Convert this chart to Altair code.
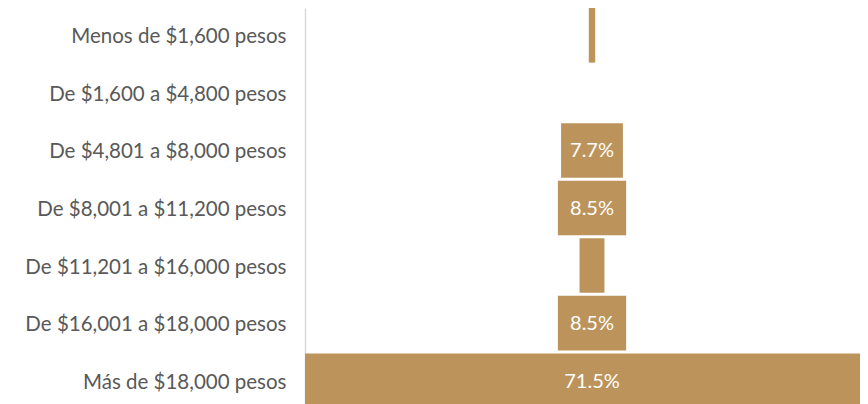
import altair as alt
import pandas as pd

categories = [
    "Menos de $1,600 pesos",
    "De $1,600 a $4,800 pesos",
    "De $4,801 a $8,000 pesos",
    "De $8,001 a $11,200 pesos",
    "De $11,201 a $16,000 pesos",
    "De $16,001 a $18,000 pesos",
    "Más de $18,000 pesos",
]
values = [0.8, 0.0, 7.7, 8.5, 3.1, 8.5, 71.5]
show_label = [False, False, True, True, False, True, True]

df = pd.DataFrame({"cat": categories, "v": values, "show": show_label})

PW = 555          # plot width (305 -> 860 on page)
CENTER = 287      # funnel centre, px from plot left
PX_PER = 8.03     # px per percentage point
d0 = -CENTER / PX_PER
d1 = d0 + PW / PX_PER

base = alt.Chart(df).transform_calculate(
    x1="-datum.v/2", x2="datum.v/2", lbl="format(datum.v, '.1f') + '%'"
)

y = alt.Y("cat:N", sort=categories, title=None,
          scale=alt.Scale(paddingInner=0.052, paddingOuter=0.0),
          axis=alt.Axis(labelFont="Lato", labelFontSize=20.5, labelColor="#595959",
                        labelPadding=19, labelOffset=2, ticks=False, domainColor="#d9d9d9",
                        domainWidth=1.5, labelLimit=400))
xs = alt.Scale(domain=[d0, d1], nice=False, zero=False)

bars = base.mark_bar(color="#BC945B", clip=True).encode(
    x=alt.X("x1:Q", scale=xs, axis=None),
    x2="x2:Q",
    y=y,
)
text = base.transform_filter("datum.show").mark_text(
    color="white", font="Lato", fontSize=20, dy=1
).encode(
    x=alt.value(CENTER),
    y=alt.Y("cat:N", sort=categories),
    text="lbl:N",
)

chart = (bars + text).properties(
    width=PW, height=400,
    autosize=alt.AutoSizeParams(type="none"),
    padding={"left": 297, "top": 0, "right": 0, "bottom": 0},
).configure_view(stroke=None)

chart.save("out.html", embed_options={"renderer": "svg", "actions": False})
